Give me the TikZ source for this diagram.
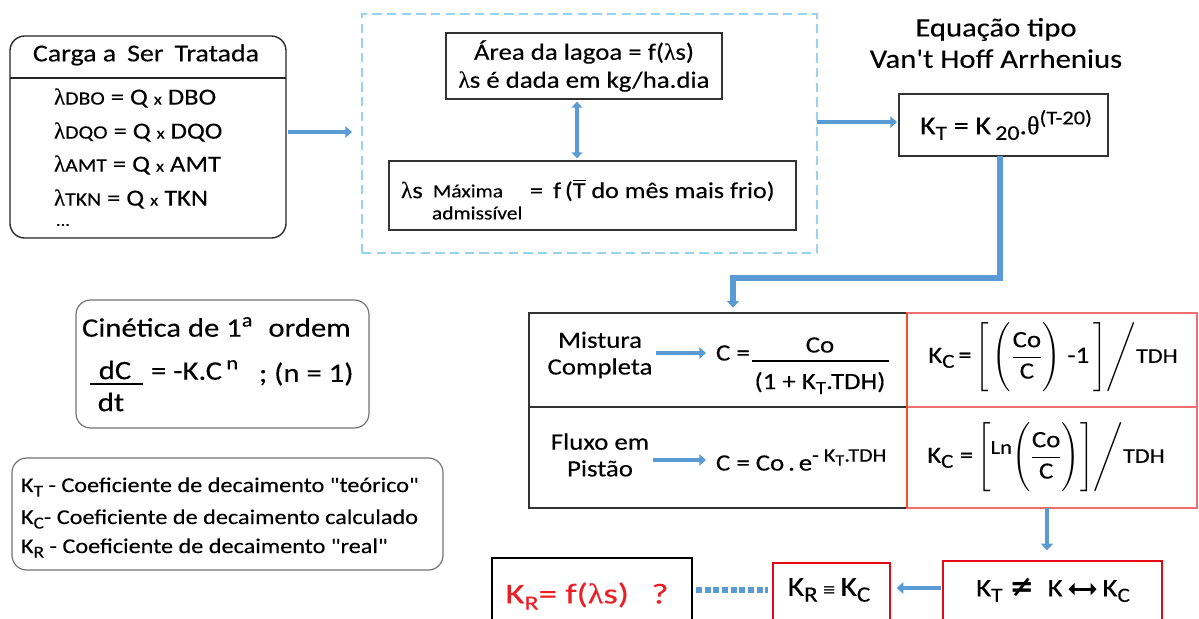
\documentclass[tikz,border=0pt]{standalone}
\usepackage{fontspec}
\usepackage{amsmath}
\usepackage{graphicx}
\setmainfont{Carlito}[FakeStretch=1.15,FakeBold=0.25,Ligatures=TeXOff]
\newfontfamily\grk{Liberation Serif}[FakeBold=0.3]
\newfontfamily\dju{DejaVu Sans}
\usetikzlibrary{arrows.meta,calc}
\definecolor{ablue}{RGB}{91,155,213}
\definecolor{dashblue}{RGB}{150,212,238}
\definecolor{redlight}{RGB}{240,110,110}
\definecolor{redstrong}{RGB}{228,10,20}
\definecolor{redtext}{RGB}{235,30,36}
\definecolor{orred}{RGB}{240,80,40}
\newcommand\fsz[2]{\fontsize{#1}{#2}\selectfont}
\newcommand\lo[2][0.72]{\raisebox{-0.45ex}{\scalebox{#1}{#2}}}
\newcommand\hi[2][0.72]{\raisebox{0.8ex}{\scalebox{#1}{#2}}}
\newcommand\lam{{\grk λ}}
\tikzset{
  roundbox/.style={draw=black!85, line width=1pt, rounded corners=11pt},
  graybox/.style={draw=black!55, line width=0.9pt, rounded corners=11pt},
  plainbox/.style={draw=black!80, line width=1pt},
  dashbox/.style={draw=dashblue, line width=1pt, dash pattern=on 7pt off 4pt},
  redcell/.style={draw=redlight, line width=1pt},
  redbox/.style={draw=redstrong, line width=2.2pt},
  blackbox/.style={draw=black, line width=2.2pt},
  bar/.style={draw=ablue, line width=3.6pt, -{Triangle[length=5pt,width=8.5pt]}},
  barthin/.style={draw=ablue, line width=3pt},
  dotbar/.style={draw=ablue, line width=3.8pt, dash pattern=on 4.5pt off 2pt},
  tA/.style={font=\fsz{17.3pt}{21pt}},
  tS/.style={font=\fsz{14pt}{16pt}},
  tM/.style={font=\fsz{17.5pt}{20pt}},
}
\begin{document}
\begin{tikzpicture}[x=0.75pt,y=-0.75pt, every node/.style={inner sep=0pt, outer sep=0pt}]
\fill[white] (0,0) rectangle (1199,618);
\useasboundingbox (0,0) rectangle (1199,618);
% helper coordinates
\coordinate (c78) at (0,78);
\coordinate (a1) at (0,132);
\coordinate (a2) at (0,122);
\coordinate (ax) at (577,0);
\coordinate (kx) at (1000,0);
\coordinate (c1) at (733,278);
\coordinate (dx) at (1047,0);
\coordinate (la) at (0,588);
\coordinate (la2) at (0,590);

% ---- Carga a ser tratada
\node[roundbox, minimum width=207pt, minimum height=151.5pt] (carga) at (148,137) {};
\draw[draw=black!85, line width=1pt] (carga.west |- c78) -- (carga.east |- c78);
\node[font=\fsz{18.2pt}{20pt}] (cargaT) at (146,55) {Carga a\hspace{0.45em}Ser\hspace{0.45em}Tratada};
\node[tA, anchor=west] (l1) at (54,98) {\lam\scalebox{0.82}{DBO} = Q \scalebox{0.7}{x} DBO};
\node[tA, anchor=west] (l2) at (54,132) {\lam\scalebox{0.82}{DQO} = Q \scalebox{0.7}{x} DQO};
\node[tA, anchor=west] (l3) at (54,165) {\lam\scalebox{0.82}{AMT} = Q \scalebox{0.7}{x} AMT};
\node[tA, anchor=west] (l4) at (54,199) {\lam\scalebox{0.82}{TKN} = Q \scalebox{0.7}{x} TKN};
\node[font=\fsz{12pt}{12pt}, anchor=west] (l5) at (56,225) {...};

% ---- dashed group
\node[dashbox, minimum width=341.25pt, minimum height=179.25pt] (dash) at (589.5,133.5) {};
\node[plainbox, minimum width=207pt, minimum height=49.5pt] (area) at (584,66) {};
\node[font=\fsz{17.5pt}{21pt}, align=center] (areaT) at (584,66) {Área da lagoa = f(\lam s)\\\lam s é dada em kg/ha.dia};
\node[plainbox, minimum width=305.25pt, minimum height=51.75pt] (lsb) at (592.5,195.5) {};
\node[font=\fsz{17.5pt}{21pt}, anchor=west] (lsT) at (401,190) {\lam s};
\node[tS, anchor=west] (lsM) at (433,191) {Máxima};
\node[tS, anchor=west] (lsA) at (432,213) {admissível};
\node[font=\fsz{17pt}{21pt}, anchor=west] (lsF) at (530,190) {=\hspace{0.45em}f\,($\overline{\mbox{T}}$ do mês mais frio)};
\draw[barthin, {Triangle[length=4.5pt,width=8pt]}-{Triangle[length=4.5pt,width=8pt]}, shorten <=2pt, shorten >=2pt] (area.south -| ax) -- (lsb.north -| ax);

% ---- arrows top
\draw[bar, shorten <=1.5pt, shorten >=7.5pt] (carga.east |- a1) -- (dash.west |- a1);

% ---- Van't Hoff
\node[font=\fsz{20pt}{23.5pt}, align=center] (eqT) at (996,43) {Equação tipo\\Van't Hoff Arrhenius};
\node[plainbox, minimum width=156.75pt, minimum height=46.5pt] (kt) at (1003.5,125) {};
\node[font=\fsz{19.5pt}{22pt}] (ktT) at (1006,125) {K\lo[0.78]{T} = K\,\lo[0.8]{20}.{\grk θ}\hi[0.75]{(T-20)}};
\draw[bar, shorten >=1.5pt] (dash.east |- a2) -- (kt.west |- a2);
\draw[draw=ablue, line width=4pt, -{Triangle[length=5pt,width=9pt]}, shorten >=4pt] (kt.south -| kx) |- (c1) -- (c1 |- 0,313);

% ---- table left
\node[plainbox, minimum width=283.5pt, minimum height=70.5pt] (mix) at (718,360) {};
\node[plainbox, minimum width=283.5pt, minimum height=75.75pt] (flux) at (718,457.5) {};
\node[tM, align=center] (mixT) at (600,355) {Mistura\\Completa};
\node[tM, anchor=west] (mixC) at (716,353) {C =};
\node[tM] (mixN) at (820,345) {Co};
\draw[line width=1pt] (752,361) -- (889,361);
\node[tM] (mixD) at (820,383) {(1 + K\lo[0.8]{T}.TDH)};
\draw[bar, shorten <=3pt, shorten >=7.5pt] (mixT.east |- mixC) -- (mixC.west);
\node[tM, align=center] (fluxT) at (600,455) {Fluxo em\\Pistão};
\node[tM, anchor=west] (fluxC) at (716,460) {C = Co\,.\,e\hi[0.82]{- K\lo[0.85]{T}.TDH}};
\draw[bar, shorten <=3pt, shorten >=7.5pt] (fluxT.east |- fluxC) -- (fluxC.west);

% ---- table right
\node[redcell, minimum width=217.5pt, minimum height=70.5pt] (kc1) at (1052,360) {};
\node[redcell, minimum width=217.5pt, minimum height=75.75pt] (kc2) at (1052,457.5) {};
\draw[orred, line width=1.8pt] (kc1.north west) -- (kc2.south west);
\node[font=\fsz{17.5pt}{20pt}] (kc1T) at (1053,357) {K\lo[0.85]{C}\,=\,$\Bigg[\,\Bigg(\dfrac{\mbox{Co}}{\mbox{C}}\Bigg)$\;-1\,$\Bigg]\Bigg/$\scalebox{0.9}{TDH}};
\node[font=\fsz{17.5pt}{20pt}] (kc2T) at (1046,457) {K\lo[0.85]{C}\;=\,$\Bigg[$\hi[0.85]{Ln}$\Bigg(\dfrac{\mbox{Co}}{\mbox{C}}\Bigg)\Bigg]\Bigg/$\scalebox{0.9}{TDH}};

% ---- bottom row
\node[redbox, minimum width=164.25pt, minimum height=45pt] (kt2) at (1052.5,591) {};
\node[font=\fsz{19pt}{22pt}] (kt2T) at (1053,590) {K\lo[0.8]{T}\;{\dju\bfseries\scalebox{1.15}{≠}}\; K\,\tikz[baseline=-0.6ex]\draw[line width=2.4pt,{Triangle[length=4.5pt,width=9pt]}-{Triangle[length=4.5pt,width=9pt]}] (0pt,0pt)--(21pt,0pt);\,K\lo[0.8]{C}};
\node[redbox, minimum width=87.75pt, minimum height=43.5pt] (krc) at (831.5,592) {};
\node[font=\fsz{20.5pt}{22pt}] (krcT) at (829,590) {K\lo[0.8]{R}\,{\dju\scalebox{0.6}{≡}}\,K\lo[0.8]{C}};
\node[blackbox, minimum width=150pt, minimum height=48pt] (kr) at (592,590) {};
\node[font=\fsz{21.5pt}{24pt}, text=redtext] (krT) at (587,596) {\scalebox{1.12}[1]{K\lo[0.7]{R}= f(\lam s)\hspace{0.7em}?}};
\draw[draw=ablue, line width=3pt, -{Triangle[length=5pt,width=9pt]}, shorten >=8pt] (kc2.south -| dx) -- (kt2.north -| dx);
\draw[bar, shorten <=1.5pt, shorten >=5pt] (kt2.west |- la) -- (krc.east |- la);
\draw[dotbar, shorten <=3pt, shorten >=4pt] (kr.east |- la2) -- (krc.west |- la2);

% ---- Cinetica
\node[graybox, minimum width=219.75pt, minimum height=96pt] (cin) at (222.5,364) {};
\node[font=\fsz{20pt}{24pt}, anchor=west] (cinT) at (82,327) {Cinética de 1\hi{a}\hspace{0.6em}ordem};
\node[font=\fsz{20pt}{24pt}] (cinN) at (115,370) {dC};
\draw[line width=2pt] (90,384) -- (143,384);
\node[font=\fsz{20pt}{24pt}] (cinD) at (111,402) {dt};
\node[font=\fsz{20pt}{24pt}, anchor=west] (cinE) at (151,370) {= -K.C\,\hi{n}};
\node[font=\fsz{20pt}{24pt}, anchor=west] (cinN1) at (259,374) {; (n = 1)};

% ---- legend
\node[graybox, minimum width=323.25pt, minimum height=84pt] (leg) at (227.5,514) {};
\node[font=\fsz{15.8pt}{18pt}, anchor=west] (lg1) at (21,487) {K\lo[0.8]{T} - Coeficiente de decaimento "teórico"};
\node[font=\fsz{15.8pt}{18pt}, anchor=west] (lg2) at (21,519) {K\lo[0.8]{C}- Coeficiente de decaimento calculado};
\node[font=\fsz{15.8pt}{18pt}, anchor=west] (lg3) at (21,548) {K\lo[0.8]{R} - Coeficiente de decaimento "real"};
\end{tikzpicture}
\end{document}
